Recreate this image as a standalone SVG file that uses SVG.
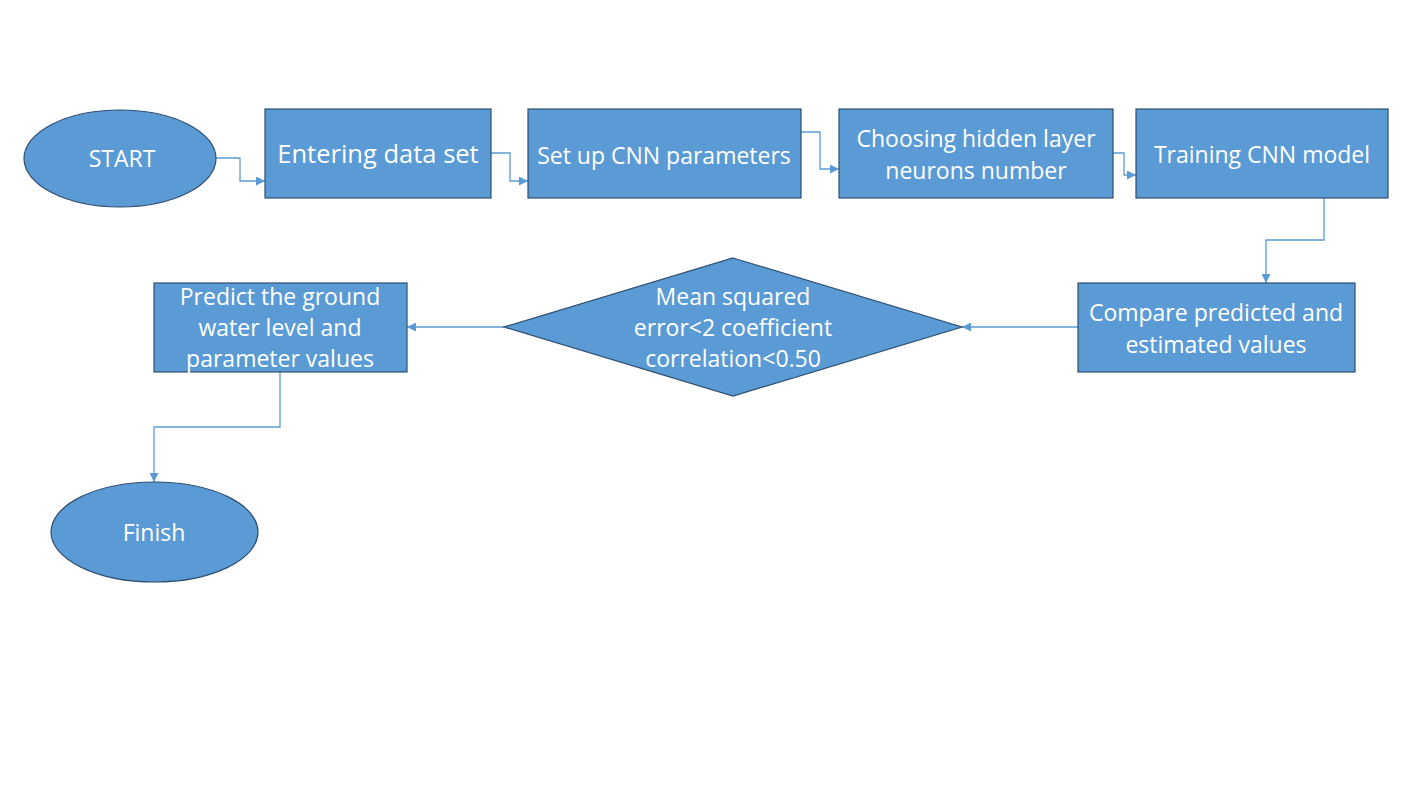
<svg xmlns="http://www.w3.org/2000/svg" width="1409" height="787" viewBox="0 0 1409 787">
<style>
.n{fill:#5B9BD5;stroke:#2F4F70;stroke-width:1.2}
.t{fill:#fff;font-family:"Open Sans","Liberation Sans",sans-serif;font-size:23px;text-anchor:middle;dominant-baseline:central}
.c{fill:none;stroke:#5B9BD5;stroke-width:1.3;marker-end:url(#a)}
</style>
<defs>
<marker id="a" viewBox="0 0 10 10" refX="10" refY="5" markerWidth="9" markerHeight="9" markerUnits="userSpaceOnUse" orient="auto"><path d="M0,0L10,5L0,10z" fill="#5B9BD5"/></marker>
</defs>
<rect width="1409" height="787" fill="#fff"/>
<g id="connectors">
<path class="c" d="M216,158H240V181H265"/>
<path class="c" d="M491,153H510V181H528"/>
<path class="c" d="M801,132H820V169H839"/>
<path class="c" d="M1113,153H1124V175H1136"/>
<path class="c" d="M1324,198V240H1266V283"/>
<path class="c" d="M1078,327H962"/>
<path class="c" d="M504,327H407"/>
<path class="c" d="M280,372V427H154V482"/>
</g>
<g id="start"><ellipse class="n" cx="120" cy="158.5" rx="96" ry="48.5"/><text class="t" x="122" y="158">START</text></g>
<g id="enter"><rect class="n" x="265" y="109" width="226" height="89"/><text class="t" x="378" y="153" style="font-size:25.5px">Entering data set</text></g>
<g id="setup"><rect class="n" x="528" y="109" width="273" height="89"/><text class="t" x="664" y="155">Set up CNN parameters</text></g>
<g id="choose"><rect class="n" x="839" y="109" width="274" height="89"/><text class="t" x="976" y="138">Choosing hidden layer</text><text class="t" x="976" y="170">neurons number</text></g>
<g id="train"><rect class="n" x="1136" y="109" width="252" height="89"/><text class="t" x="1262" y="154">Training CNN model</text></g>
<g id="compare"><rect class="n" x="1078" y="283" width="277" height="89"/><text class="t" x="1216" y="312">Compare predicted and</text><text class="t" x="1216" y="344">estimated values</text></g>
<g id="decision"><polygon class="n" points="733,258 962,327 733,396 504,327"/><text class="t" x="733" y="296">Mean squared</text><text class="t" x="733" y="327">error&lt;2 coefficient</text><text class="t" x="733" y="358">correlation&lt;0.50</text></g>
<g id="predict"><rect class="n" x="154" y="283" width="253" height="89"/><text class="t" x="280" y="296">Predict the ground</text><text class="t" x="280" y="327">water level and</text><text class="t" x="280" y="358">parameter values</text></g>
<g id="finish"><ellipse class="n" cx="154.5" cy="532" rx="103.5" ry="50"/><text class="t" x="154" y="532">Finish</text></g>
</svg>
